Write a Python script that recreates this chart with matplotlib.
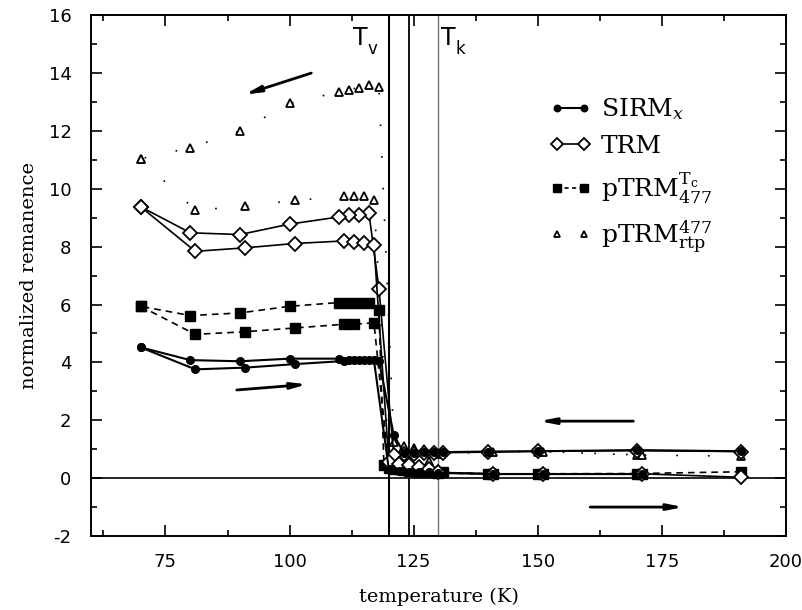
import numpy as np
import matplotlib
matplotlib.use("Agg")
import matplotlib.pyplot as plt
from matplotlib.ticker import MultipleLocator
from matplotlib.font_manager import FontProperties
from matplotlib.lines import Line2D

plt.rcParams["axes.unicode_minus"] = False

# SIRM_x: cooling from room temperature, then warming back
sirm_cool_t = [191, 170, 150, 140, 131, 129, 127, 125, 123, 121, 118, 116, 114, 112, 110, 100, 90, 80, 70]
sirm_cool = [0.93, 0.97, 0.93, 0.92, 0.9, 0.9, 0.9, 0.88, 0.88, 1.49, 4.05, 4.07, 4.08, 4.1, 4.13, 4.13, 4.04, 4.08, 4.52]
sirm_warm_t = [70, 81, 91, 101, 111, 113, 115, 117, 120, 122, 124, 126, 128, 130, 141, 151, 171]
sirm_warm = [4.52, 3.76, 3.82, 3.94, 4.05, 4.07, 4.07, 4.07, 0.3, 0.25, 0.22, 0.2, 0.2, 0.18, 0.14, 0.14, 0.14]

# TRM
trm_cool_t = [191, 170, 150, 140, 131, 129, 127, 125, 123, 121, 118, 116, 114, 112, 110, 100, 90, 80, 70]
trm_cool = [0.92, 0.95, 0.93, 0.9, 0.88, 0.87, 0.86, 0.85, 0.85, 0.8, 6.55, 9.15, 9.11, 9.09, 9.03, 8.78, 8.42, 8.48, 9.38]
trm_warm_t = [70, 81, 91, 101, 111, 113, 115, 117, 120, 122, 124, 126, 128, 130, 141, 151, 171, 191]
trm_warm = [9.38, 7.84, 7.96, 8.11, 8.2, 8.17, 8.13, 8.05, 0.55, 0.5, 0.45, 0.4, 0.3, 0.2, 0.15, 0.15, 0.15, 0.03]

# pTRM (Tc -> 477)
ptc_cool_t = [191, 170, 150, 140, 131, 129, 127, 125, 123, 121, 119, 118, 116, 114, 112, 110, 100, 90, 80, 70]
ptc_cool = [0.22, 0.16, 0.15, 0.15, 0.2, 0.22, 0.25, 0.25, 0.28, 0.3, 0.47, 5.8, 6.07, 6.07, 6.07, 6.07, 5.94, 5.71, 5.62, 5.94]
ptc_warm_t = [70, 81, 91, 101, 111, 113, 117, 120, 122, 124, 126, 128, 130, 141, 151, 171]
ptc_warm = [5.94, 4.97, 5.06, 5.19, 5.32, 5.32, 5.37, 0.35, 0.3, 0.25, 0.22, 0.2, 0.18, 0.14, 0.14, 0.14]

# pTRM (477 -> rtp)
prt_cool_t = [191, 170, 150, 140, 131, 129, 127, 125, 123, 121, 118, 116, 114, 112, 110, 100, 90, 80, 70]
prt_cool = [0.76, 0.8, 0.92, 0.92, 0.9, 0.95, 1.0, 1.05, 1.1, 1.25, 13.52, 13.58, 13.5, 13.43, 13.35, 12.95, 12.0, 11.42, 11.04]
prt_warm_t = [70, 81, 91, 101, 111, 113, 115, 117, 120, 122, 124, 126, 128, 130, 141, 151, 171]
prt_warm = [11.04, 9.26, 9.4, 9.6, 9.74, 9.74, 9.74, 9.63, 0.5, 0.48, 0.45, 0.45, 0.6, 0.85, 0.9, 0.92, 0.8]

t_verwey = 120
t_mid = 124
t_k = 130

fig = plt.figure(figsize=(8.02, 6.10), dpi=100)
ax = fig.add_axes([0.1135, 0.1213, 0.8665, 0.8537])

# reference lines
ax.axhline(0, color="black", lw=1.2, zorder=1)
ax.axvline(t_verwey, color="black", lw=1.5, zorder=1)
ax.axvline(t_mid, color="black", lw=1.3, zorder=1)
ax.axvline(t_k, color="0.45", lw=1.0, zorder=1)

sirm_style = dict(color="black", lw=1.5, marker="o", ms=5.5, mfc="black", mec="black")
trm_style = dict(color="black", lw=1.2, marker="D", ms=7, mfc="white", mec="black", mew=1.3)
ptc_style = dict(color="black", lw=1.2, ls=(0, (4, 3)), marker="s", ms=6.5, mfc="black", mec="black")
prt_style = dict(color="black", lw=1.2, ls=(0, (1, 18)), marker="^", ms=5.5, mfc="white", mec="black", mew=1.3)

ax.plot(prt_cool_t, prt_cool, **prt_style, zorder=3)
ax.plot(prt_warm_t, prt_warm, **prt_style, zorder=3)
ax.plot(ptc_cool_t, ptc_cool, **ptc_style, zorder=4)
ax.plot(ptc_warm_t, ptc_warm, **ptc_style, zorder=4)
ax.plot(trm_cool_t, trm_cool, **trm_style, zorder=5)
ax.plot(trm_warm_t, trm_warm, **trm_style, zorder=5)
ax.plot(sirm_cool_t, sirm_cool, **sirm_style, zorder=6)
ax.plot(sirm_warm_t, sirm_warm, **sirm_style, zorder=6)

# direction arrows
arrow = dict(arrowstyle="-|>,head_length=0.9,head_width=0.18", color="black", lw=2)
ax.annotate("", xy=(90.4, 13.23), xytext=(104.9, 14.03), arrowprops=arrow)
ax.annotate("", xy=(104.1, 3.25), xytext=(88.8, 3.04), arrowprops=arrow)
ax.annotate("", xy=(149.8, 1.97), xytext=(169.8, 1.97), arrowprops=arrow)
ax.annotate("", xy=(179.9, -1.0), xytext=(160.0, -1.0), arrowprops=arrow)

# transition labels
ax.text(112.7, 15.2, "T", fontsize=17, family="DejaVu Sans", va="center")
ax.text(115.6, 14.85, "v", fontsize=12, family="DejaVu Sans", va="center")
ax.text(130.6, 15.2, "T", fontsize=17, family="DejaVu Sans", va="center")
ax.text(133.5, 14.85, "k", fontsize=12, family="DejaVu Sans", va="center")

ax.set_xlim(60, 200)
ax.set_ylim(-2, 16)
ax.set_xticks([75, 100, 125, 150, 175, 200])
ax.xaxis.set_minor_locator(MultipleLocator(12.5))
ax.yaxis.set_major_locator(MultipleLocator(2))
ax.yaxis.set_minor_locator(MultipleLocator(1))
ax.tick_params(which="both", direction="in", top=True, right=True, width=1.2)
ax.tick_params(which="major", length=8, labelsize=13)
ax.tick_params(axis="x", which="major", pad=12)
ax.tick_params(axis="y", which="major", pad=14)
ax.tick_params(which="minor", length=4)
for lab in ax.get_xticklabels() + ax.get_yticklabels():
    lab.set_family("DejaVu Sans")
for sp in ax.spines.values():
    sp.set_linewidth(1.4)

ax.set_xlabel("temperature (K)", fontsize=14, family="DejaVu Serif", labelpad=12)
ax.set_ylabel("normalized remanence", fontsize=14, family="DejaVu Serif", labelpad=8)

handles = [
    Line2D([], [], **sirm_style),
    Line2D([], [], **trm_style),
    Line2D([], [], **{**ptc_style, "ls": (0, (2.5, 2))}),
    Line2D([], [], **{**prt_style, "ls": "none"}),
]
labels = [r"SIRM$_x$", "TRM", r"pTRM$^{\mathrm{T_c}}_{477}$", r"pTRM$^{477}_{\mathrm{rtp}}$"]
prop = FontProperties(family="DejaVu Serif", size=18, math_fontfamily="dejavuserif")
ax.legend(handles, labels, loc="upper left", bbox_to_anchor=(0.628, 0.887), frameon=False,
          prop=prop, numpoints=2, markerscale=0.85, handlelength=1.65,
          handletextpad=0.4, labelspacing=0.5)

fig.savefig("out.png", dpi=100)
